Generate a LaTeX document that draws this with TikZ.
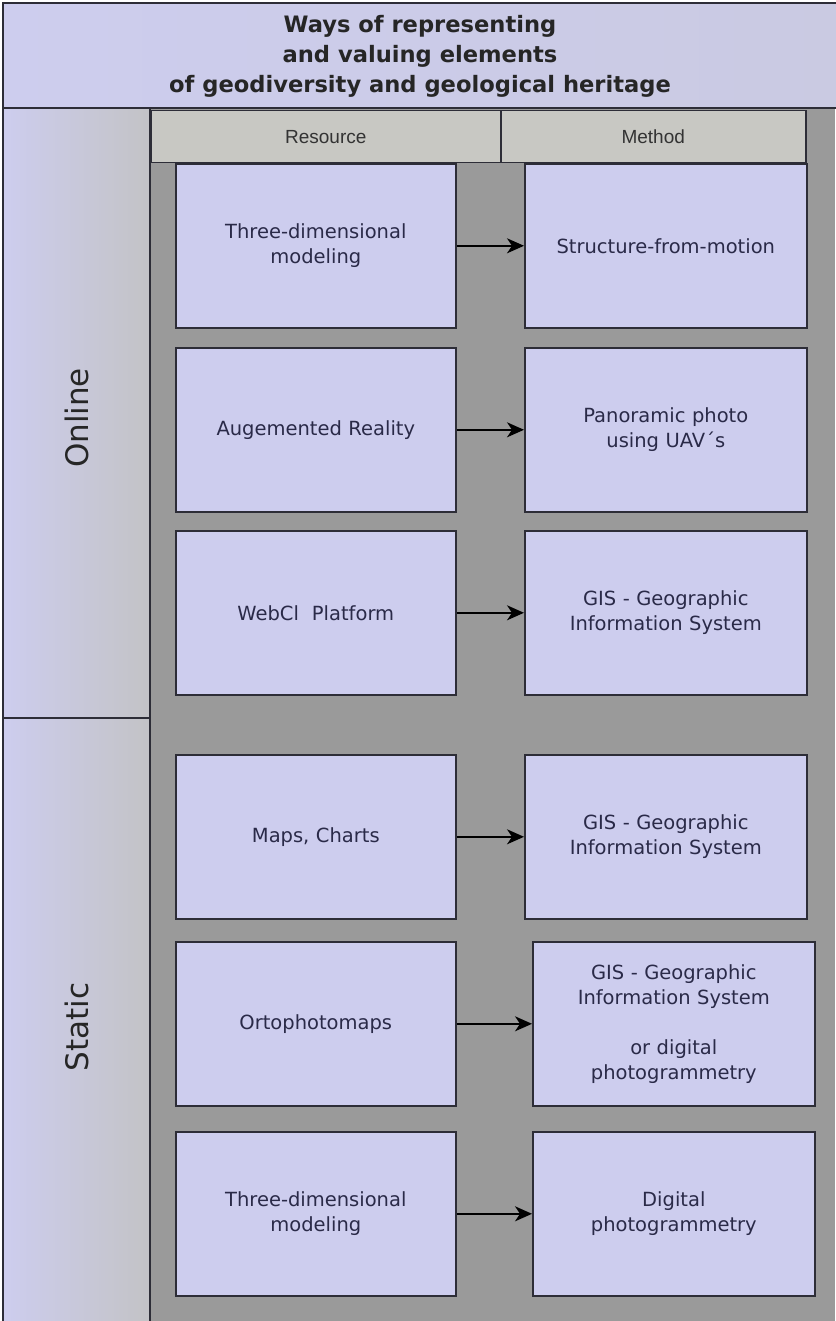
\documentclass[tikz,border=0pt]{standalone}
\usepackage{fontspec}
\setmainfont{DejaVu Sans}
\newfontfamily\headfont{Liberation Sans}
\usetikzlibrary{arrows.meta}

\definecolor{lav}{RGB}{205,205,238}
\definecolor{bggray}{RGB}{154,154,154}
\definecolor{hdgray}{RGB}{200,200,195}
\definecolor{sidegray}{RGB}{195,195,198}
\definecolor{txt}{RGB}{42,42,72}
\definecolor{edge}{RGB}{45,45,55}

\tikzset{
  box/.style={draw=edge, line width=1.6pt, fill=lav, anchor=north west,
    minimum width=280pt, minimum height=164pt, text width=274pt, align=center,
    inner sep=0pt, text=txt, font=\fontsize{19.5}{25}\selectfont},
  head/.style={draw=edge, line width=1.5pt, fill=hdgray, anchor=north west,
    minimum height=52pt, inner sep=0pt, text=black!80,
    font=\headfont\fontsize{19}{23}\selectfont},
  band/.style={draw=edge, line width=1.5pt, left color=lav, right color=sidegray},
  side/.style={rotate=90, text=black!85, font=\fontsize{31}{36}\selectfont},
  arr/.style={-{Stealth[length=17pt,width=15pt,inset=5pt]}, line width=1.6pt, black}
}

\begin{document}
\begin{tikzpicture}[x=1pt,y=-1pt]

\useasboundingbox (0,0) rectangle (835,1321);

% background of the table
\fill[bggray] (150,108) rectangle (835,1321);

% title
\draw[band, right color=lav!70!sidegray] (3,3) rectangle (838,108);
\node (title) at (420,56) [align=center, text=black!85,
  font=\bfseries\fontsize{22.6}{30}\selectfont]
  {Ways of representing\\and valuing elements\\of geodiversity and geological heritage};

% left column
\draw[band] (3,108) rectangle (150,718);
\draw[band] (3,718) rectangle (150,1324);
\node [side] (online) at (77,418) {Online};
\node [side] (static) at (77,1027) {Static};

%\draw[dashed] (150,108) -- (150,718);
\draw[dashed, line width=1.5pt, edge] (150,162) -- (150,718);

% column heads
\node [head, minimum width=350pt] (hres) at (150,110) {Resource};
\node [head, minimum width=305pt] (hmet) at (500,110) {Method};

% online rows
\node [box] (res1) at (175,163) {Three-dimensional\\modeling};
\node [box, minimum width=282pt] (met1) at (524,163) {Structure-from-motion};
\node [box] (res2) at (175,347) {Augemented Reality};
\node [box, minimum width=282pt] (met2) at (524,347) {Panoramic photo\\using UAV´s};
\node [box] (res3) at (175,530) {WebCl\ \ Platform};
\node [box, minimum width=282pt] (met3) at (524,530) {GIS - Geographic\\Information System};

% static rows
\node [box] (res4) at (175,754) {Maps, Charts};
\node [box, minimum width=282pt] (met4) at (524,754) {GIS - Geographic\\Information System};
\node [box] (res5) at (175,941) {Ortophotomaps};
\node [box, minimum width=282pt] (met5) at (532,941)
  {GIS - Geographic\\Information System\\[25pt]or digital\\photogrammetry};
\node [box] (res6) at (175,1131) {Three-dimensional\\modeling};
\node [box, minimum width=282pt] (met6) at (532,1131) {Digital\\photogrammetry};

\draw[arr] (res1) -- (met1);
\draw[arr] (res2) -- (met2);
\draw[arr] (res3) -- (met3);
\draw[arr] (res4) -- (met4);
\draw[arr] (res5) -- (met5);
\draw[arr] (res6) -- (met6);

\end{tikzpicture}
\end{document}
